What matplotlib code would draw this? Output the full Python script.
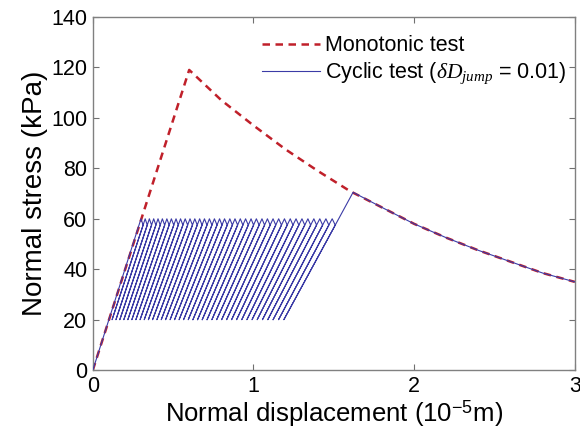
import matplotlib
matplotlib.use("Agg")
import matplotlib.pyplot as plt

plt.rcParams['font.family'] = ['Liberation Sans', 'DejaVu Sans']
plt.rcParams['mathtext.fontset'] = 'custom'
plt.rcParams['mathtext.rm'] = 'Liberation Sans'
plt.rcParams['mathtext.it'] = 'Liberation Serif:italic'
plt.rcParams['mathtext.bf'] = 'Liberation Sans:bold'

# Monotonic test
mono_x = [0.0, 0.6, 0.8, 1.0, 1.2, 1.4, 1.6, 1.8, 2.0, 2.2, 2.4, 2.6, 2.8, 3.0]
mono_y = [0.0, 119.0, 107.0, 97.0, 87.5, 79.0, 71.0, 64.5, 58.0, 52.5, 47.5, 43.0, 38.5, 35.0]

# Cyclic test
# displacement where each reloading branch reaches the upper stress (60 kPa)
top_x = [0.300, 0.326, 0.352, 0.379, 0.406, 0.433, 0.461, 0.489, 0.518, 0.546,
         0.575, 0.605, 0.635, 0.665, 0.695, 0.726, 0.757, 0.789, 0.820, 0.853,
         0.885, 0.918, 0.951, 0.985, 1.018, 1.053, 1.087, 1.122, 1.157, 1.193,
         1.229, 1.265, 1.302, 1.339, 1.376, 1.413, 1.451, 1.490]
# displacement at the lower stress (20 kPa) of each unloading branch
valley_x = [0.120, 0.144, 0.168, 0.193, 0.218, 0.243, 0.268, 0.294, 0.320, 0.346,
            0.372, 0.399, 0.426, 0.453, 0.481, 0.509, 0.537, 0.565, 0.594, 0.623,
            0.652, 0.681, 0.711, 0.741, 0.771, 0.802, 0.833, 0.864, 0.895, 0.927,
            0.959, 0.991, 1.023, 1.056, 1.089, 1.122, 1.156, 1.189]
upper_stress = 60.0
lower_stress = 20.0
jump_stress = 57.5   # stress right after each damage jump
# Post-cycling envelope
tail_x = [1.62, 1.8, 2.0, 2.2, 2.4, 2.6, 2.8, 3.0]
tail_y = [70.5, 64.5, 58.0, 52.5, 47.5, 43.0, 38.5, 35.0]

cyc_x = [0.0, top_x[0]]
cyc_y = [0.0, upper_stress]
n = len(valley_x)
for k in range(n):
    v = valley_x[k]
    if k + 1 < len(top_x):
        t = top_x[k + 1]
    else:
        t = v + (tail_x[0] - v) * (upper_stress - lower_stress) / (tail_y[0] - lower_stress)
    # point on this branch right after the jump
    q = v + (t - v) * (jump_stress - lower_stress) / (upper_stress - lower_stress)
    cyc_x += [q, v]
    cyc_y += [jump_stress, lower_stress]
    if k + 1 < len(top_x):
        cyc_x.append(t)
        cyc_y.append(upper_stress)
cyc_x += tail_x
cyc_y += tail_y

fig = plt.figure(figsize=(5.8, 4.46), dpi=100)
ax = fig.add_axes([0.160, 0.170, 0.831, 0.792])

ax.plot(mono_x, mono_y, linestyle=(0, (3.0, 2.2)), color='#C0202A', lw=1.8,
        label='Monotonic test', zorder=2)
ax.plot(cyc_x, cyc_y, color='#3B3BA6', lw=0.8,
        label=r'Cyclic test ($\delta D_{jump}$ = 0.01)', zorder=3)

ax.set_xlim(0, 3)
ax.set_ylim(0, 140)
ax.set_xticks([0, 1, 2, 3])
ax.set_yticks(range(0, 141, 20))
ax.tick_params(direction='in', length=4, width=0.8, labelsize=15.5,
               top=True, right=True, color='#707070', pad=4)
for s in ax.spines.values():
    s.set_color('#808080')
    s.set_linewidth(1.0)

ax.set_xlabel(r'Normal displacement (10$^{-5}$m)', fontsize=18.5, labelpad=1)
ax.set_ylabel('Normal stress (kPa)', fontsize=20, labelpad=2)

leg = ax.legend(loc='upper left', frameon=False, fontsize=15.5,
                handlelength=2.7, handletextpad=0.25, labelspacing=0.2,
                bbox_to_anchor=(0.351, 0.948), borderaxespad=0.0, borderpad=0.0)

fig.savefig('out.png', dpi=100)
